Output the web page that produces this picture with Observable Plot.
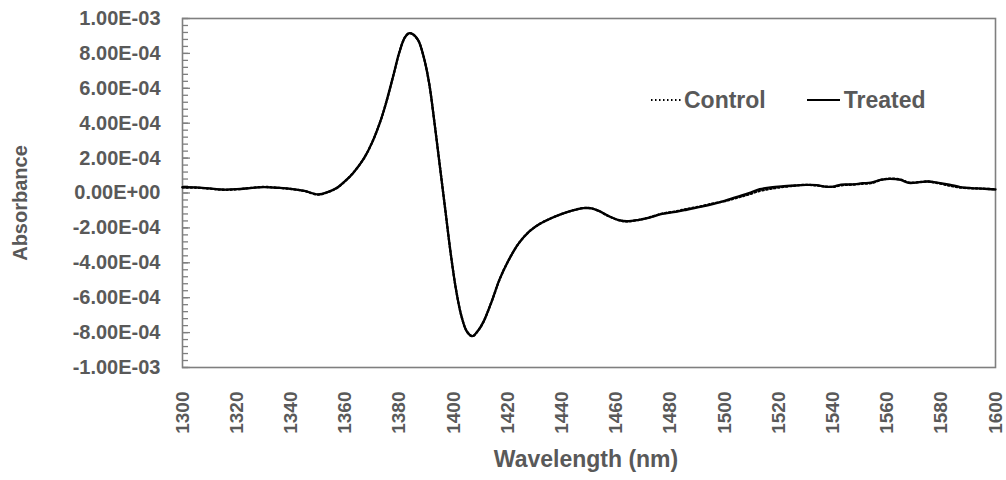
<!DOCTYPE html>
<html><head><meta charset="utf-8">
<script src="https://cdn.jsdelivr.net/npm/d3@7"></script>
<script src="https://cdn.jsdelivr.net/npm/@observablehq/plot@0.6"></script>
<style>
body{margin:0;background:#fff;font-family:"Liberation Sans",Arial,sans-serif;}
#wrap{position:relative;width:1006px;height:480px;}
#legend{position:absolute;left:650px;top:86px;display:flex;align-items:center;font-weight:bold;font-size:23px;color:#595959;line-height:28px;}
#legend svg{display:block;}
</style></head><body>
<div id="wrap"><div id="chart"></div>
<div id="legend">
<svg width="34" height="10"><line x1="1" y1="5" x2="33" y2="5" stroke="#000" stroke-width="2" stroke-dasharray="1.5 2.5"/></svg><span>Control</span>
<span style="display:inline-block;width:41px"></span>
<svg width="37" height="10"><line x1="0" y1="5" x2="33" y2="5" stroke="#000" stroke-width="2"/></svg><span>Treated</span>
</div></div>
<script>
const wavelengths = [1300,1305,1310,1315,1320,1325,1330,1335,1340,1345,1350,1354,1357,1360,1363,1367,1370,1373,1375,1378,1380,1382,1383.5,1385,1387,1389,1391,1393,1395,1397,1399,1401,1403,1405,1407,1409,1411,1414,1417,1420,1424,1428,1432,1436,1440,1444,1448,1451,1454,1457,1461,1464,1468,1472,1477,1482,1486,1491,1496,1500,1505,1509,1513,1517,1521,1526,1530,1534,1537,1540,1543,1547,1551,1554,1558,1561,1565,1568,1572,1575,1579,1583,1587,1591,1595,1600];
const treated = [3.3e-5,3.2e-5,2.6e-5,2.0e-5,2.2e-5,2.8e-5,3.4e-5,3.0e-5,2.4e-5,1.2e-5,-0.8e-5,0.8e-5,3.0e-5,6.8e-5,1.15e-4,2.0e-4,2.9e-4,4.1e-4,5.1e-4,6.85e-4,8.05e-4,8.9e-4,9.15e-4,9.1e-4,8.75e-4,7.8e-4,6.3e-4,4.0e-4,1.5e-4,-1.0e-4,-3.5e-4,-5.6e-4,-7.1e-4,-7.95e-4,-8.2e-4,-7.9e-4,-7.4e-4,-6.25e-4,-4.95e-4,-3.95e-4,-2.9e-4,-2.2e-4,-1.75e-4,-1.45e-4,-1.2e-4,-1.0e-4,-8.7e-5,-8.8e-5,-1.05e-4,-1.3e-4,-1.55e-4,-1.62e-4,-1.55e-4,-1.42e-4,-1.2e-4,-1.08e-4,-9.6e-5,-8.0e-5,-6.2e-5,-4.5e-5,-2.0e-5,0,2.2e-5,3.2e-5,3.8e-5,4.3e-5,4.6e-5,4.5e-5,3.6e-5,3.6e-5,4.8e-5,4.9e-5,5.6e-5,5.9e-5,7.6e-5,8.1e-5,7.5e-5,5.8e-5,6.2e-5,6.6e-5,5.8e-5,4.8e-5,3.4e-5,2.8e-5,2.5e-5,2.0e-5];
const control = [3.2e-5,3.0e-5,2.5e-5,1.8e-5,2.1e-5,2.9e-5,3.5e-5,3.0e-5,2.3e-5,1.1e-5,-0.9e-5,0.7e-5,2.9e-5,6.8e-5,1.16e-4,2.0e-4,2.91e-4,4.1e-4,5.1e-4,6.86e-4,8.06e-4,8.9e-4,9.15e-4,9.1e-4,8.74e-4,7.8e-4,6.3e-4,4.0e-4,1.5e-4,-1.0e-4,-3.5e-4,-5.6e-4,-7.1e-4,-7.95e-4,-8.21e-4,-7.9e-4,-7.4e-4,-6.25e-4,-4.96e-4,-3.95e-4,-2.9e-4,-2.2e-4,-1.76e-4,-1.45e-4,-1.2e-4,-1.0e-4,-8.6e-5,-8.8e-5,-1.06e-4,-1.31e-4,-1.56e-4,-1.63e-4,-1.55e-4,-1.41e-4,-1.18e-4,-1.05e-4,-9.2e-5,-7.7e-5,-5.9e-5,-4.7e-5,-2.6e-5,-0.8e-5,1.2e-5,2.4e-5,3.3e-5,4.2e-5,4.7e-5,4.3e-5,3.7e-5,3.5e-5,4.4e-5,4.8e-5,5.3e-5,5.6e-5,7.6e-5,8.2e-5,7.7e-5,6.0e-5,6.3e-5,6.6e-5,5.6e-5,4.2e-5,3.1e-5,2.7e-5,2.5e-5,2.1e-5];
const xTicks = d3.range(1300, 1601, 20);
const yTicks = d3.range(-5, 6).map(i => i * 2e-4);
const yMinorTicks = d3.range(-25, 26).map(i => i * 4e-5);

const fmtE = v => {
  if (Math.abs(v) < 1e-12) return "0.00E+00";
  const [m, e] = v.toExponential(2).split("e");
  const n = +e;
  return m + "E" + (n < 0 ? "-" : "+") + String(Math.abs(n)).padStart(2, "0");
};

const rows = s => wavelengths.map((w, i) => ({w, v: s[i]}));
const gray = "#595959";
const font = "'Liberation Sans', Arial, sans-serif";

const chart = Plot.plot({
  width: 1006, height: 480,
  marginLeft: 182, marginRight: 11, marginTop: 18, marginBottom: 113,
  x: {domain: [1300, 1600]},
  y: {domain: [-1e-3, 1e-3]},
  style: {fontFamily: font, background: "#fff"},
  marks: [
    Plot.axisY({ticks: yMinorTicks, tickSize: -6, tickFormat: () => "", label: null, stroke: "#7f7f7f", strokeWidth: 1.3}),
    Plot.axisY({ticks: yTicks, tickSize: -8, tickFormat: () => "", label: null, stroke: "#7f7f7f", strokeWidth: 1.3}),
    Plot.axisY({ticks: yTicks, tickSize: 0, tickPadding: 22, tickFormat: fmtE, label: null, fontSize: 20, fontWeight: "bold", fill: gray}),
    Plot.axisX({ticks: xTicks, tickSize: 0, tickRotate: -90, tickPadding: 24, tickFormat: d => String(d), label: null, fontSize: 19, fontWeight: "bold", fill: gray}),
    Plot.frame({stroke: "#7f7f7f", strokeWidth: 1.6}),
    Plot.line(rows(treated), {x: "w", y: "v", stroke: "#000", strokeWidth: 2.3, curve: "catmull-rom"}),
    Plot.line(rows(control), {x: "w", y: "v", stroke: "#000", strokeWidth: 2.3, strokeDasharray: "1.5 2.5", curve: "catmull-rom"}),
    Plot.text(["Absorbance"], {frameAnchor: "left", dx: -162, dy: 10, rotate: -90, textAnchor: "middle", fontSize: 20, fontWeight: "bold", fill: gray}),
    Plot.text(["Wavelength (nm)"], {frameAnchor: "bottom", dy: 99, dx: -3, fontSize: 23, fontWeight: "bold", fill: gray})
  ]
});
document.getElementById("chart").appendChild(chart);
</script>
</body></html>
